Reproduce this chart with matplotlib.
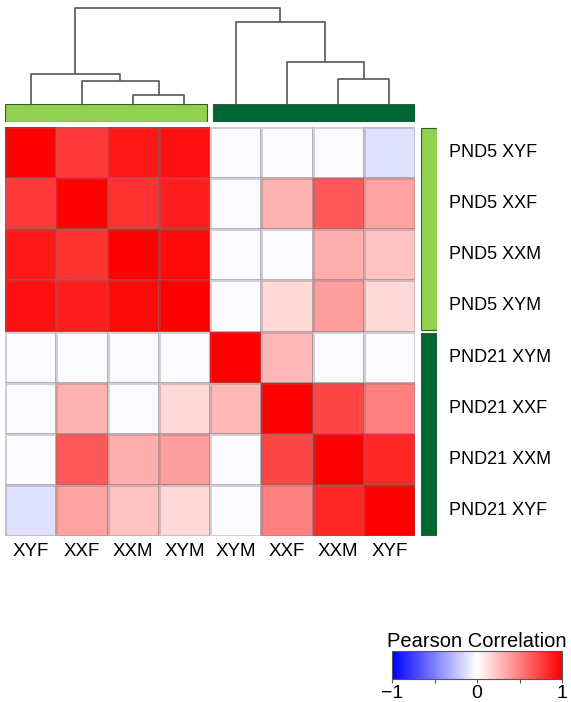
import numpy as np
import matplotlib
matplotlib.use('Agg')
import matplotlib.pyplot as plt
from matplotlib.colors import LinearSegmentedColormap, Normalize
from matplotlib.patches import Rectangle
from matplotlib.colorbar import ColorbarBase

plt.rcParams['font.family'] = ['Liberation Sans', 'DejaVu Sans']

# --- data ---
row_labels = ['PND5 XYF', 'PND5 XXF', 'PND5 XXM', 'PND5 XYM',
              'PND21 XYM', 'PND21 XXF', 'PND21 XXM', 'PND21 XYF']
col_labels = ['XYF', 'XXF', 'XXM', 'XYM', 'XYM', 'XXF', 'XXM', 'XYF']

r0 = [1.00, 0.78, 0.90, 0.93, -0.02, -0.02, -0.02, -0.12]
r1 = [0.78, 1.00, 0.80, 0.88, -0.02, 0.30, 0.65, 0.36]
r2 = [0.90, 0.80, 1.00, 0.96, -0.02, -0.02, 0.32, 0.24]
r3 = [0.93, 0.88, 0.96, 1.00, -0.02, 0.15, 0.38, 0.15]
r4 = [-0.02, -0.02, -0.02, -0.02, 1.00, 0.28, -0.02, -0.02]
r5 = [-0.02, 0.30, -0.02, 0.15, 0.28, 1.00, 0.72, 0.50]
r6 = [-0.02, 0.65, 0.32, 0.38, -0.02, 0.72, 1.00, 0.85]
r7 = [-0.12, 0.36, 0.24, 0.15, -0.02, 0.50, 0.85, 1.00]
corr = np.array([r0, r1, r2, r3, r4, r5, r6, r7])

# group of each column / row (0 = PND5, 1 = PND21)
groups = [0, 0, 0, 0, 1, 1, 1, 1]
group_colors = ['#92d050', '#006633']

# dendrogram merges: (child a, child b, height), scipy style ids
merges = [(2, 3, 0.10), (1, 8, 0.25), (0, 9, 0.32),
          (6, 7, 0.27), (5, 11, 0.44), (4, 12, 0.86), (10, 13, 1.00)]

W, H = 571, 702
fig = plt.figure(figsize=(W / 100, H / 100), dpi=100)


def px_axes(x0, y0, x1, y1):
    # axes from pixel box (top-left origin)
    return fig.add_axes([x0 / W, 1 - y1 / H, (x1 - x0) / W, (y1 - y0) / H])


cmap = LinearSegmentedColormap.from_list('bwr2', ['#0000ff', '#ffffff', '#ff0000'])
norm = Normalize(-1, 1)

# heatmap
ax = px_axes(5, 127, 415, 536)
ax.pcolormesh(corr, cmap=cmap, norm=norm,
              edgecolors=(0.45, 0.45, 0.45, 0.3), linewidth=0.8)
ax.set_xlim(0, 8)
ax.set_ylim(8, 0)
ax.set_xticks(np.arange(8) + 0.5)
ax.set_xticklabels(col_labels, fontsize=13.5)
ax.set_yticks([])
ax.tick_params(axis='x', length=0, pad=5)
for s in ax.spines.values():
    s.set_visible(False)

# row labels on the right
for i, lab in enumerate(row_labels):
    fig.text(449 / W, 1 - (127 + (i + 0.5) * 409 / 8) / H, lab,
             fontsize=13, va='center', ha='left')

# top group bars
axt = px_axes(5, 104, 415, 122)
axt.set_xlim(0, 8)
axt.set_ylim(0, 1)
axt.axis('off')
for g in (0, 1):
    cols = [i for i, v in enumerate(groups) if v == g]
    x0 = min(cols) + (0.06 if g == 1 else 0)
    x1 = max(cols) + 1 - (0.06 if g == 0 else 0)
    axt.add_patch(Rectangle((x0, 0), x1 - x0, 1, facecolor=group_colors[g],
                            edgecolor='#3a5a2a', linewidth=0.8))

# right group bars
axr = px_axes(421, 127, 437, 536)
axr.set_xlim(0, 1)
axr.set_ylim(8, 0)
axr.axis('off')
for g in (0, 1):
    rows = [i for i, v in enumerate(groups) if v == g]
    y0 = min(rows) + (0.03 if g == 1 else 0.01)
    y1 = max(rows) + 1 - (0.03 if g == 0 else 0.01)
    axr.add_patch(Rectangle((0, y0), 1, y1 - y0, facecolor=group_colors[g],
                            edgecolor='#3a5a2a', linewidth=0.8))

# dendrogram
axd = px_axes(5, 8, 415, 105)
axd.set_xlim(0, 8)
axd.set_ylim(0, 1.0)
axd.axis('off')
pos = {i: i + 0.5 for i in range(8)}
hgt = {i: 0.0 for i in range(8)}
for k, (a, b, h) in enumerate(merges):
    node = 8 + k
    xa, xb = pos[a], pos[b]
    axd.plot([xa, xa, xb, xb], [hgt[a], h, h, hgt[b]], color='#555555',
             linewidth=1.2, clip_on=False, solid_capstyle='butt')
    pos[node] = (xa + xb) / 2
    hgt[node] = h

# colorbar
axc = px_axes(392, 651, 562, 679)
cb = ColorbarBase(axc, cmap=cmap, norm=norm, orientation='horizontal')
cb.set_ticks([-1, 0, 1])
cb.set_ticklabels(['\u22121', '0', '1'])
cb.ax.xaxis.set_minor_locator(matplotlib.ticker.FixedLocator([-0.5, 0.5]))
cb.ax.tick_params(which='both', length=3, width=0.8, color='#555555',
                  labelsize=14, pad=1)
cb.outline.set_edgecolor('#555555')
cb.outline.set_linewidth(0.8)
cb.ax.set_title('Pearson Correlation', fontsize=14.5, pad=3)

fig.savefig('out.png', dpi=100)
